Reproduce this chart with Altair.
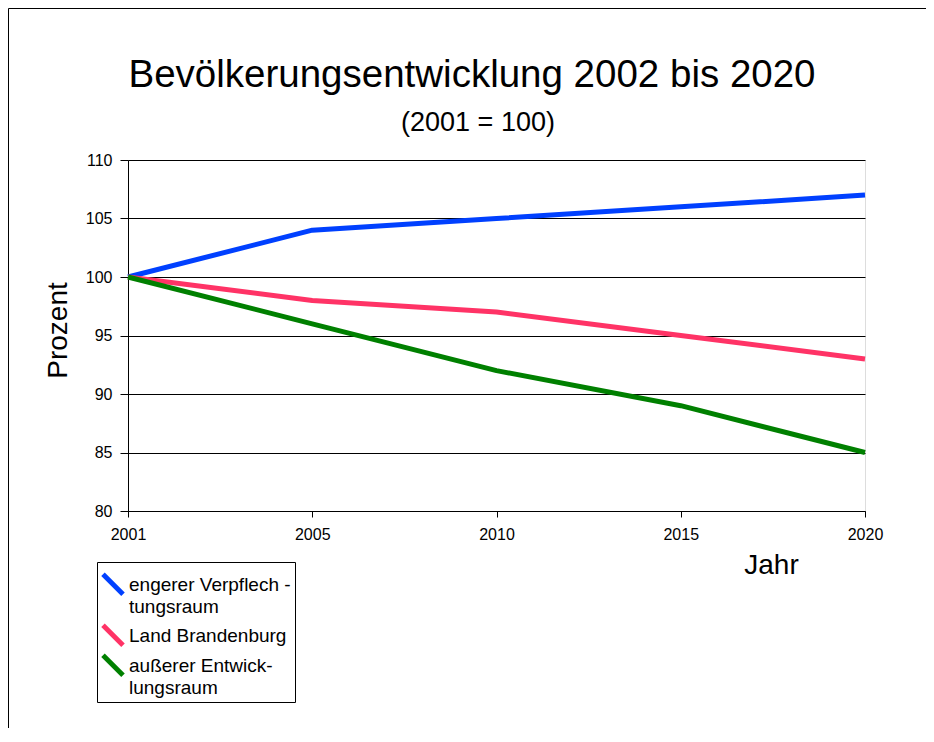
import altair as alt
import pandas as pd

title_text = "Bevölkerungsentwicklung 2002 bis 2020"
subtitle_text = "(2001 = 100)"
years = ["2001", "2005", "2010", "2015", "2020"]
engerer = [100, 104, 105, 106, 107]
land = [100, 98, 97, 95, 93]
aeusserer = [100, 96, 92, 89, 85]
series_names = ["engerer Verpflechtungsraum", "Land Brandenburg", "außerer Entwicklungsraum"]
series_labels = [["engerer Verpflech -", "tungsraum"], ["Land Brandenburg"], ["außerer Entwick-", "lungsraum"]]
colors = ["#0040ff", "#ff3366", "#008000"]
y_ticks = [80, 85, 90, 95, 100, 105, 110]

rows = []
for name, vals in zip(series_names, [engerer, land, aeusserer]):
    for yr, v in zip(years, vals):
        rows.append({"Jahr": yr, "Prozent": v, "Serie": name})
df = pd.DataFrame(rows)

# label expression for multi-line legend labels
expr = "datum.label"
for name, lab in reversed(list(zip(series_names, series_labels))):
    arr = "[" + ",".join("'" + s + "'" for s in lab) + "]"
    expr = f"datum.label == '{name}' ? {arr} : ({expr})"

FONT = "Liberation Sans"

# filled parallelogram that looks like a short thick diagonal line
LEGEND_SYMBOL = "M-0.623,-0.357L1.377,1.643L1.023,1.997L-0.977,-0.003Z"

x_enc = alt.X("Jahr:O", sort=years,
              scale=alt.Scale(type="point", padding=0),
              axis=alt.Axis(title="Jahr", labelAngle=0, labelFontSize=16, labelFont=FONT,
                            labelColor="black", tickColor="black", tickSize=6,
                            labelPadding=9, domainColor="black", grid=False,
                            titleFontSize=28, titleFont=FONT, titleFontWeight="normal",
                            titleColor="black", titleX=643, titleY=62,
                            titleAlign="center", titleBaseline="alphabetic"))
y_enc = alt.Y("Prozent:Q",
              scale=alt.Scale(domain=[80, 110], nice=False, zero=False),
              axis=alt.Axis(title="Prozent", values=y_ticks, labelFontSize=16, labelFont=FONT,
                            labelColor="black", tickColor="black", tickSize=8,
                            labelPadding=8, domainColor="black", grid=True,
                            gridColor="black", gridOpacity=1, gridWidth=1,
                            titleFontSize=28, titleFont=FONT, titleFontWeight="normal",
                            titleColor="black", titleX=-70, titleY=170, titleAngle=270,
                            titleAlign="center", titleBaseline="middle"))

lines = alt.Chart(df).mark_line(strokeWidth=5, strokeJoin="round").encode(
    x=x_enc, y=y_enc,
    stroke=alt.Stroke("Serie:N", sort=series_names,
                      scale=alt.Scale(range=colors),
                      legend=None),
)

legend_layer = alt.Chart(df).transform_filter("false").mark_point(filled=True).encode(
    x=x_enc, y=y_enc,
    fill=alt.Fill("Serie:N", sort=series_names,
                  scale=alt.Scale(domain=series_names, range=colors),
                  legend=alt.Legend(title=None, orient="none", legendX=-31, legendY=402,
                                    symbolType=LEGEND_SYMBOL, symbolSize=400,
                                    symbolStrokeWidth=0, symbolOpacity=1,
                                    labelFontSize=19, labelFont=FONT,
                                    labelColor="black", labelBaseline="top",
                                    labelOffset=8, labelExpr=expr, labelLimit=300,
                                    strokeColor="black", fillColor="white",
                                    padding=4, rowPadding=0)),
)

frame = alt.Chart(alt.Data(values=[{}])).mark_rect(
    fill=None, stroke="black", strokeWidth=1
).encode(
    x=alt.value(-119.5), x2=alt.value(2000), y=alt.value(-151.5), y2=alt.value(2000)
)

title = alt.Chart(alt.Data(values=[{}])).mark_text(
    text=title_text, font=FONT, fontSize=38.5, color="black",
    align="center", baseline="alphabetic"
).encode(x=alt.value(344), y=alt.value(-73))

subtitle = alt.Chart(alt.Data(values=[{}])).mark_text(
    text=subtitle_text, font=FONT, fontSize=27, color="black",
    align="center", baseline="alphabetic"
).encode(x=alt.value(350), y=alt.value(-29))

chart = alt.layer(frame, title, subtitle, lines, legend_layer).properties(
    width=737, height=351,
    autosize=alt.AutoSizeParams(type="none"),
    padding={"left": 120, "top": 152, "right": 61, "bottom": 217},
).configure_view(stroke=None).configure(
    background="white",
    style={"guide-label": {"lineHeight": 22}},
)

chart.save("out.html", embed_options={"renderer": "svg", "actions": False})
